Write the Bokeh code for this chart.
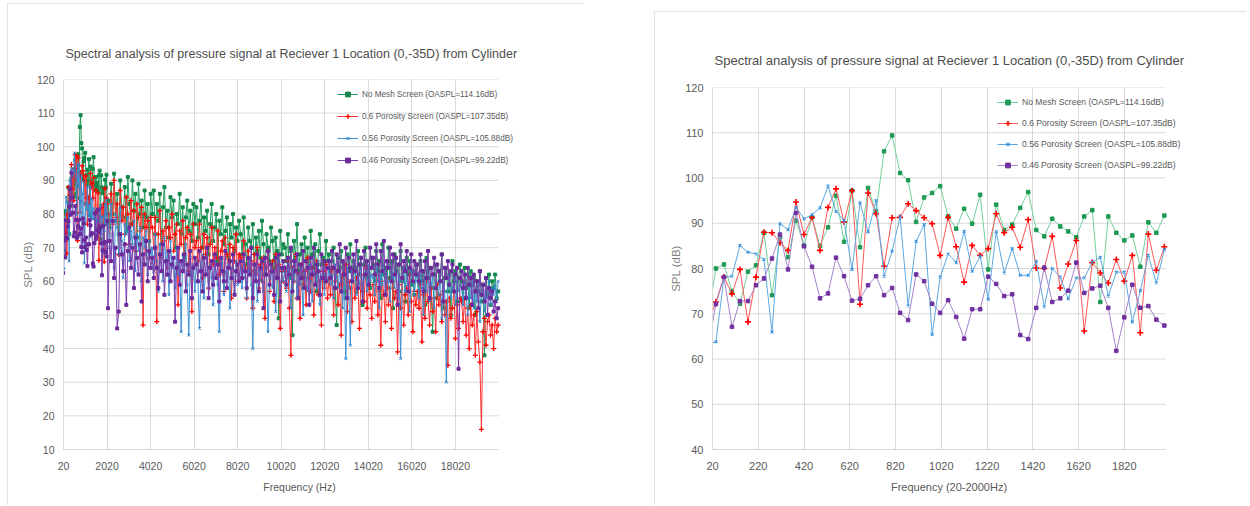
from bokeh.plotting import figure
from bokeh.models import Range1d, FixedTicker, Legend, LegendItem, Spacer
from bokeh.layouts import row
from bokeh.embed import file_html
from bokeh.resources import INLINE

TITLE = "Spectral analysis of pressure signal at Reciever 1 Location (0,-35D) from Cylinder"
series_names = [
    "No Mesh Screen (OASPL=114.16dB)",
    "0.6 Porosity Screen (OASPL=107.35dB)",
    "0.56 Porosity Screen (OASPL=105.88dB)",
    "0.46 Porosity Screen (OASPL=99.22dB)",
]

# ---------------- data ----------------
# FFT bins 0 .. 2030 Hz (35 Hz spacing)
bin_hz = 35
low_freq = [bin_hz * k for k in range(59)]
low_green = [69.2, 80.0, 80.9, 75.0, 72.2, 79.3, 80.7, 87.9, 74.1, 86.9,
             82.5, 90.6, 85.1, 91.3, 85.0, 89.1, 96.1, 85.9, 97.2, 84.7,
             97.8, 92.6, 105.9, 109.4, 101.1, 99.5, 90.3, 95.7, 96.7, 98.2,
             91.5, 88.8, 93.2, 89.9, 96.3, 79.8, 94.1, 88.5, 89.7, 93.4,
             96.9, 88.5, 87.1, 91.0, 89.3, 88.2, 86.9, 91.5, 92.9, 72.6,
             91.5, 87.9, 86.2, 87.3, 80.4, 90.2, 87.9, 91.7, 77.0]
low_red = [67.9, 72.6, 78.1, 74.4, 79.8, 68.2, 78.1, 88.0, 87.9, 85.7,
           84.0, 94.7, 87.5, 91.3, 84.0, 93.5, 97.6, 90.3, 97.2, 72.1,
           96.7, 92.1, 80.5, 91.2, 91.3, 94.3, 92.8, 91.2, 89.9, 82.9,
           91.3, 84.8, 77.0, 85.1, 82.9, 84.4, 92.1, 87.9, 89.1, 84.7,
           90.8, 80.1, 80.0, 87.1, 75.7, 81.0, 86.2, 66.2, 81.3, 79.0,
           76.8, 82.0, 77.2, 82.9, 65.8, 87.6, 79.6, 84.8, 83.0]
low_blue = [63.3, 63.8, 78.0, 78.3, 85.1, 83.6, 83.2, 82.0, 66.0, 89.9,
            88.6, 93.5, 91.0, 91.9, 93.4, 98.2, 92.6, 90.6, 79.8, 94.5,
            88.1, 95.0, 78.3, 83.8, 91.5, 71.7, 86.0, 89.7, 65.4, 78.1,
            83.2, 81.3, 88.2, 79.4, 82.7, 73.2, 88.1, 79.0, 84.4, 78.5,
            78.5, 81.6, 71.5, 80.0, 78.1, 73.3, 77.9, 77.9, 81.4, 82.5,
            73.9, 79.2, 79.2, 68.2, 75.1, 82.9, 76.8, 84.2, 80.0]
low_purple = [62.5, 72.1, 78.1, 67.1, 72.8, 72.8, 76.3, 77.8, 82.2, 87.5,
              79.8, 92.3, 84.9, 80.4, 73.4, 74.5, 82.4, 78.3, 72.9, 73.3,
              76.3, 78.3, 74.1, 75.7, 70.2, 68.6, 78.7, 77.2, 72.2, 70.2,
              73.0, 69.3, 64.5, 71.0, 71.0, 78.2, 76.6, 73.9, 74.3, 65.3,
              64.4, 71.3, 80.2, 72.6, 73.4, 75.1, 81.3, 74.6, 75.6, 76.2,
              71.3, 61.8, 69.2, 76.4, 71.3, 71.7, 68.7, 67.4, 78.0]

# 2065 .. 19985 Hz, read every second bin (70 Hz)
hi_start, hi_step = 2065, 70
hi_green = [
    84, 76, 89, 80, 92, 78, 86, 74, 90, 82, 79, 88, 75, 91, 83, 77, 90, 81, 86, 73, 89, 80, 84, 76, 87, 79, 83, 72, 86,
    80, 87, 74, 83, 78, 86, 71, 82, 88, 76, 81, 73, 85, 79, 84, 70, 80, 77, 86, 74, 82, 67, 79, 84, 75, 81, 72, 83, 77,
    82, 73, 78, 84, 70, 79, 75, 81, 68, 77, 83, 72, 76, 80, 66, 78, 74, 82, 71, 75, 79, 67, 77, 73, 80, 69, 76, 72, 78,
    74, 68, 79, 71, 65, 76, 72, 70, 77, 63, 73, 69, 75, 67, 78, 71, 62, 74, 70, 66, 76, 72, 64, 73, 69, 49, 75, 68, 71,
    70, 66, 74, 61, 69, 44, 72, 67, 77, 63, 68, 71, 58, 73, 66, 70, 62, 75, 68, 64, 71, 57, 69, 74, 65, 67, 60, 72, 66,
    68, 63, 66, 70, 58, 47, 67, 64, 69, 61, 65, 55, 68, 63, 71, 60, 66, 64, 57, 69, 62, 67, 53, 65, 70, 61, 64, 58, 67,
    65, 60, 69, 63, 66, 55, 71, 62, 64, 58, 70, 61, 66, 52, 68, 63, 65, 57, 69, 60, 64, 54, 67, 62, 66, 59, 63, 56, 65,
    62, 57, 66, 60, 63, 53, 67, 61, 64, 58, 45, 62, 65, 55, 63, 60, 68, 52, 61, 64, 57, 62, 50, 66, 60, 63, 54, 61, 65,
    60, 55, 64, 58, 62, 52, 63, 59, 61, 50, 60, 57, 63, 54, 59, 38, 61, 56, 62, 53, 60, 58, 62, 55, 57]
hi_red = [
    80, 72, 86, 77, 90, 79, 83, 68, 87, 78, 82, 74, 85, 80, 71, 84, 77, 81, 69, 83, 79, 75, 82, 47, 80, 76, 78, 67, 79,
    76, 70, 79, 48, 74, 81, 67, 75, 72, 78, 64, 76, 73, 80, 69, 74, 77, 53, 75, 71, 78, 66, 73, 76, 63, 74, 51, 77, 70,
    72, 66, 77, 70, 61, 74, 68, 73, 58, 71, 76, 65, 70, 67, 75, 62, 69, 72, 57, 73, 68, 64, 71, 55, 70, 66, 74, 60, 68,
    67, 61, 72, 64, 55, 69, 63, 66, 52, 68, 62, 70, 58, 65, 60, 67, 49, 64, 69, 57, 63, 66, 54, 68, 61, 65, 46, 63, 60,
    63, 58, 66, 52, 38, 64, 60, 68, 55, 62, 49, 65, 59, 63, 53, 67, 61, 57, 64, 50, 62, 66, 56, 60, 47, 63, 58, 65, 55,
    61, 56, 64, 50, 60, 63, 53, 59, 44, 62, 57, 65, 51, 60, 58, 48, 63, 55, 61, 59, 46, 62, 57, 54, 64, 52, 60, 56, 49,
    59, 54, 62, 50, 57, 41, 60, 56, 48, 61, 53, 58, 46, 60, 55, 57, 39, 59, 52, 61, 47, 56, 58, 50, 62, 54, 45, 57, 53,
    57, 52, 59, 42, 56, 49, 60, 54, 47, 58, 51, 55, 45, 59, 53, 56, 48, 57, 50, 54, 35, 55, 49, 52, 57, 43, 53, 46, 55,
    54, 48, 55, 44, 52, 40, 53, 47, 50, 38, 51, 42, 36, 16, 45, 49, 41, 48, 50, 44, 47, 40, 49, 45, 47]
hi_blue = [
    78, 70, 83, 74, 64, 80, 76, 68, 82, 72, 61, 77, 74, 79, 66, 75, 71, 78, 63, 74, 69, 76, 60, 73, 70, 75, 62, 72, 68,
    70, 63, 74, 66, 57, 71, 68, 60, 73, 65, 69, 56, 72, 64, 67, 58, 70, 62, 66, 45, 68, 63, 71, 59, 44, 67, 61, 65, 57,
    66, 60, 46, 64, 68, 55, 63, 67, 58, 65, 61, 53, 66, 62, 59, 45, 64, 67, 56, 63, 60, 65, 52, 64, 61, 57, 66, 59, 62,
    64, 58, 66, 61, 55, 63, 67, 59, 40, 62, 65, 54, 63, 60, 66, 57, 62, 64, 45, 61, 65, 58, 63, 51, 62, 66, 56, 63, 60,
    63, 57, 65, 61, 52, 64, 60, 66, 55, 62, 59, 64, 50, 63, 61, 57, 65, 60, 54, 63, 62, 58, 66, 53, 61, 64, 56, 62, 60,
    64, 59, 62, 55, 65, 61, 58, 63, 60, 52, 62, 37, 64, 58, 41, 63, 60, 65, 56, 62, 59, 64, 54, 61, 63, 57, 65, 60, 62,
    61, 56, 64, 60, 52, 63, 59, 65, 57, 62, 60, 54, 64, 61, 58, 63, 55, 62, 37, 60, 64, 57, 62, 59, 51, 63, 60, 56, 62,
    60, 55, 62, 58, 50, 61, 57, 63, 54, 59, 61, 52, 60, 58, 56, 62, 49, 60, 57, 30, 59, 62, 55, 58, 61, 53, 60, 57, 59,
    58, 53, 60, 56, 50, 59, 55, 61, 52, 57, 54, 59, 48, 56, 58, 51, 57, 55, 60, 53, 58, 56, 59, 54, 60]
hi_purple = [
    52, 72, 66, 78, 61, 70, 46, 51, 74, 68, 63, 71, 53, 69, 76, 64, 70, 58, 73, 67, 62, 71, 54, 68, 65, 72, 60, 69, 64,
    67, 61, 70, 64, 58, 68, 63, 71, 56, 66, 62, 69, 60, 65, 67, 48, 64, 70, 59, 66, 63, 68, 57, 65, 62, 69, 55, 64, 67,
    65, 60, 69, 63, 57, 67, 62, 70, 55, 64, 66, 59, 68, 61, 65, 54, 67, 63, 60, 69, 58, 64, 66, 61, 68, 56, 63, 65, 60,
    66, 61, 68, 63, 58, 67, 62, 70, 55, 65, 60, 68, 57, 64, 66, 52, 67, 62, 69, 59, 65, 63, 56, 67, 61, 68, 54, 64, 66,
    64, 59, 67, 62, 70, 57, 66, 63, 68, 55, 65, 61, 69, 58, 66, 64, 53, 67, 62, 70, 59, 65, 63, 56, 68, 61, 66, 60, 64,
    66, 61, 69, 64, 58, 68, 63, 71, 57, 66, 62, 70, 55, 67, 64, 60, 68, 63, 72, 58, 65, 67, 54, 69, 62, 66, 59, 70, 64,
    67, 62, 71, 65, 58, 69, 63, 72, 56, 66, 64, 70, 60, 68, 62, 67, 53, 65, 71, 61, 66, 63, 69, 57, 64, 68, 60, 66, 62,
    65, 60, 68, 63, 57, 66, 61, 69, 55, 64, 62, 67, 58, 65, 63, 60, 68, 54, 64, 61, 66, 59, 63, 65, 57, 62, 64, 34, 61,
    63, 58, 62, 55, 64, 59, 61, 53, 62, 57, 60, 52, 63, 56, 59, 54, 61, 50, 58, 55, 57, 51, 54, 49, 52]

left_xticks = [20, 2020, 4020, 6020, 8020, 10020, 12020, 14020, 16020, 18020]
right_xticks = [20, 220, 420, 620, 820, 1020, 1220, 1420, 1620, 1820]
left_yticks = [10, 20, 30, 40, 50, 60, 70, 80, 90, 100, 110, 120]
right_yticks = [40, 50, 60, 70, 80, 90, 100, 110, 120]

# ---------------- styling ----------------
FONT = "Liberation Sans"
TXT = "#595959"
GRID = "#d9d9d9"
markers = ["square", "cross", "x", "square"]


def full(low, hi):
    xs = low_freq + [hi_start + hi_step * i for i in range(len(hi))]
    return xs, low + hi


def panel(width, height, x_lim, plot_px, extra_px, y_start, xticks, yticks, borders,
          title_size, title_offset, title_standoff, xlabel, xlabel_size, tick_size,
          legend_loc, legend_size, legend_spacing, data, line_colors, marker_colors,
          marker_sizes, marker_lw, margin):
    # the plot frame runs a little past the axis end so the legend is not clipped
    x_end = x_lim + extra_px * (x_lim - 20) / plot_px
    p = figure(width=width, height=height, output_backend="svg", toolbar_location=None,
               x_range=Range1d(20, x_end), y_range=Range1d(y_start, 120),
               min_border_left=borders[0], min_border_right=borders[1],
               min_border_top=borders[2], min_border_bottom=borders[3],
               background_fill_color="white", border_fill_color="white",
               outline_line_color=None, margin=margin)
    p.styles = {"outline": "1px solid #d9d9d9", "outline-offset": "-1px"}
    p.title.text = TITLE
    p.title.align = "left"
    p.title.vertical_align = "bottom"
    p.title.text_font = FONT
    p.title.text_font_size = title_size
    p.title.text_font_style = "normal"
    p.title.text_color = "#4d4d4d"
    p.title.offset = title_offset
    p.title.standoff = title_standoff

    p.xaxis.ticker = FixedTicker(ticks=xticks)
    p.yaxis.ticker = FixedTicker(ticks=yticks)
    p.xaxis.bounds = (20, x_lim)
    for ax in (p.xaxis, p.yaxis):
        ax.major_tick_line_color = None
        ax.minor_tick_line_color = None
        ax.axis_line_color = GRID
        ax.major_label_text_font = FONT
        ax.major_label_text_font_size = tick_size
        ax.major_label_text_color = TXT
        ax.axis_label_text_font_style = "normal"
    p.xaxis.major_label_standoff = 6
    p.yaxis.major_tick_out = 0
    p.yaxis.minor_tick_out = 0
    p.yaxis.major_label_standoff = 9
    p.xaxis.axis_label = xlabel
    p.xaxis.axis_label_text_font = FONT
    p.xaxis.axis_label_text_font_size = xlabel_size
    p.xaxis.axis_label_text_color = TXT
    p.xaxis.axis_label_standoff = 8
    p.yaxis.axis_label = "SPL (dB)"
    p.yaxis.axis_label_text_font = FONT
    p.yaxis.axis_label_text_font_size = "11.5px"
    p.yaxis.axis_label_text_color = "#7f7f7f"
    p.yaxis.axis_label_standoff = 0
    p.xgrid.grid_line_color = GRID
    p.ygrid.grid_line_color = None
    # horizontal gridlines only across the axis extent
    p.segment(x0=[20] * len(yticks), x1=[x_lim] * len(yticks), y0=yticks, y1=yticks,
              line_color=GRID, line_width=1, level="underlay")

    items = []
    for i, (xs, ys) in enumerate(data):
        lr = p.line(xs, ys, line_color=line_colors[i], line_width=1)
        sr = p.scatter(xs, ys, marker=markers[i], size=marker_sizes[i],
                       fill_color=marker_colors[i], line_color=marker_colors[i],
                       line_width=marker_lw[i])
        items.append(LegendItem(label=series_names[i], renderers=[lr, sr]))
    leg = Legend(items=items, location=legend_loc, orientation="vertical",
                 glyph_width=21, glyph_height=12, label_height=12, spacing=legend_spacing,
                 padding=0, margin=0, label_standoff=4, border_line_color=None,
                 background_fill_alpha=0, label_text_font=FONT,
                 label_text_font_size=legend_size, label_text_color=TXT)
    p.add_layout(leg)
    return p


left_data = [full(low_green, hi_green), full(low_red, hi_red),
             full(low_blue, hi_blue), full(low_purple, hi_purple)]
right_data = [(low_freq[:58], low_green[:58]), (low_freq[:58], low_red[:58]),
              (low_freq[:58], low_blue[:58]), (low_freq[:58], low_purple[:58])]

pA = panel(576, 502, 20000, 435, 37, 10, left_xticks, left_yticks, (56, 48, 76, 56),
           "12.5px", 2, 37, "Frequency (Hz)", "10.5px", "10.5px", (274, 283), "8.2px", 10,
           left_data,
           ["#1f9d5c", "#ff3030", "#3d8fd1", "#7a3aab"],
           ["#13874a", "#ff0000", "#2a7fc8", "#6a2a9a"],
           [3, 5, 4, 3], [1, 1.3, 1, 1], (3, 0, 0, 7))

pB = panel(592, 494, 2000, 453, 20, 40, right_xticks, right_yticks, (58, 61, 74, 56),
           "13px", 2, 39, "Frequency (20-2000Hz)", "11px", "11px", (285, 278), "8.6px", 9,
           right_data,
           ["#71d19b", "#ff5959", "#5ea8e2", "#a483cc"],
           ["#1e9a55", "#ff0000", "#3a90d8", "#7030a0"],
           [3.5, 6, 4, 3.5], [1, 1.6, 1.1, 1], (11, 0, 0, 0))

layout = row(pA, Spacer(width=71, height=10), pB)
open("out.html", "w").write(file_html(layout, INLINE))
